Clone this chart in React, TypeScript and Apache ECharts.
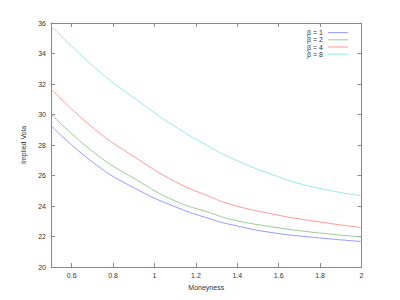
import React, { useEffect, useRef } from "react";
import * as echarts from "echarts";

const moneyness = [0.5, 0.71, 0.91, 1.1, 1.27, 1.37, 1.56, 1.75, 2.0];
const beta1 = [29.27, 26.78, 25.13, 23.95, 23.15, 22.78, 22.27, 21.97, 21.67];
const beta2 = [30.03, 27.48, 25.74, 24.33, 23.55, 23.12, 22.65, 22.3, 21.97];
const beta4 = [31.69, 29.05, 27.16, 25.6, 24.6, 24.1, 23.5, 23.05, 22.58];
const beta8 = [35.82, 33.1, 31.0, 29.2, 27.85, 27.15, 26.1, 25.3, 24.67];
const seriesNames = ["β = 1", "β = 2", "β = 4", "β = 8"];
const seriesColors = ["#9999ff", "#99cc99", "#ff9999", "#99e8e8"];
const xTicks = [0.6, 0.8, 1.0, 1.2, 1.4, 1.6, 1.8, 2.0];

export default function App() {
  const ref = useRef<HTMLDivElement>(null);
  useEffect(() => {
    if (!ref.current) return;
    const chart = echarts.init(ref.current, null, { renderer: "svg" });
    const all = [beta1, beta2, beta4, beta8];
    const axisLine = { show: true, lineStyle: { color: "#888", width: 1 } };
    const font = "Liberation Sans, Arial, sans-serif";
    chart.setOption({
      animation: false,
      backgroundColor: "#fff",
      textStyle: { fontFamily: font },
      grid: { left: 51, right: 38.5, top: 23, bottom: 33 },
      legend: {
        orient: "vertical",
        right: 47,
        top: 24,
        align: "right",
        itemWidth: 20,
        itemHeight: 1,
        itemGap: 0,
        icon: "rect",
        textStyle: { fontSize: 7, color: "#333", lineHeight: 7.2, fontFamily: font },
        data: seriesNames,
      },
      xAxis: [
        {
          type: "value",
          min: 0.5,
          max: 2,
          name: "Moneyness",
          nameLocation: "middle",
          nameGap: 16,
          nameTextStyle: { fontSize: 7, color: "#333" },
          axisLine,
          axisTick: { inside: true, length: 4, customValues: xTicks, lineStyle: { color: "#888" } },
          axisLabel: { fontSize: 7, color: "#333", margin: 5, customValues: xTicks },
          splitLine: { show: false },
        },
        {
          type: "value",
          position: "top",
          min: 0.5,
          max: 2,
          axisLine,
          axisTick: { inside: true, length: 4, customValues: xTicks, lineStyle: { color: "#888" } },
          axisLabel: { show: false },
          splitLine: { show: false },
        },
      ],
      yAxis: [
        {
          type: "value",
          min: 20,
          max: 36,
          interval: 2,
          name: "Implied Vola",
          nameLocation: "middle",
          nameGap: 18,
          nameTextStyle: { fontSize: 7, color: "#333" },
          axisLine,
          axisTick: { inside: true, length: 4, lineStyle: { color: "#888" } },
          axisLabel: { fontSize: 7, color: "#333", margin: 5 },
          splitLine: { show: false },
        },
        {
          type: "value",
          position: "right",
          min: 20,
          max: 36,
          interval: 2,
          axisLine,
          axisTick: { inside: true, length: 4, lineStyle: { color: "#888" } },
          axisLabel: { show: false },
          splitLine: { show: false },
        },
      ],
      series: all.map((vals, i) => ({
        name: seriesNames[i],
        type: "line",
        xAxisIndex: 0,
        yAxisIndex: 0,
        smooth: 0.5,
        showSymbol: false,
        symbol: "none",
        color: seriesColors[i],
        lineStyle: { width: 1, color: seriesColors[i] },
        data: moneyness.map((m, j) => [m, vals[j]]),
      })),
    });
    return () => chart.dispose();
  }, []);
  return (
    <div
      ref={ref}
      style={{ position: "fixed", left: 0, top: 0, width: 400, height: 300 }}
    />
  );
}
